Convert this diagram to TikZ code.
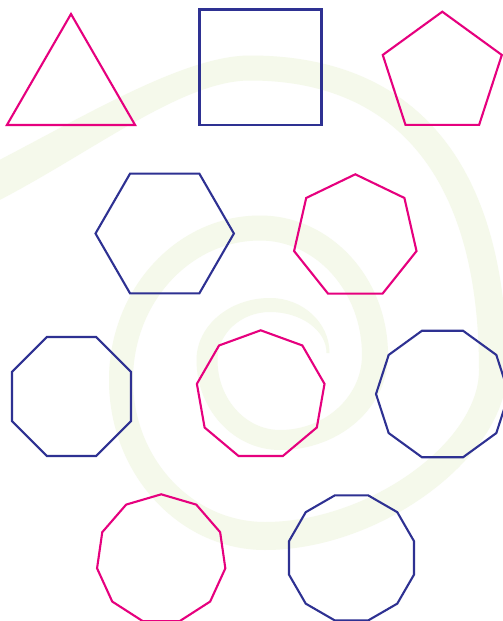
\documentclass[tikz,border=0pt]{standalone}
\usepackage{tikz}
\definecolor{polymag}{RGB}{230,0,126}
\definecolor{polyblue}{RGB}{46,49,146}
\definecolor{swirlgreen}{RGB}{245,249,235}
\tikzset{
  magline/.style={draw=polymag, line width=2.1pt},
  blueline/.style={draw=polyblue, line width=2.1pt},
  swirl/.style={fill=swirlgreen},
}
% regular polygon: style, n, cx, cy, R, start angle
\newcommand\regpolygon[6]{%
  \draw[#1] plot[samples=#2, domain=#6:{#6+360-360/#2}]
    ({#3+#5*cos(\x)},{#4-#5*sin(\x)}) -- cycle;}
% quarter ellipse pieces: from side point (#1,#2) to top/bottom point (#3,#4), and back
\newcommand\sidetb[5]{.. controls (#1,{#2+#5*(#4-#2)}) and ({#3+#5*(#1-#3)},#4) .. (#3,#4)}
\newcommand\tbside[5]{.. controls ({#1+#5*(#3-#1)},#2) and (#3,{#4+#5*(#2-#4)}) .. (#3,#4)}
\begin{document}
\begin{tikzpicture}[x=1pt,y=-1pt]
\useasboundingbox (0,0) rectangle (503,621);
\clip (0,0) rectangle (503,621);
\fill[white] (0,0) rectangle (503,621);
% background swirl (filled band)
\fill[swirl] (329.5,353)
  \sidetb{329.5}{353}{270}{298}{0.552}
  \tbside{270}{298}{196.5}{360}{0.552}
  \sidetb{196.5}{360}{280}{450}{0.552}
  \tbside{280}{450}{388}{355}{0.552}
  \sidetb{388}{355}{260}{215.5}{0.552}
  \tbside{260}{215.5}{109}{380}{0.552}
  \sidetb{109}{380}{265}{550}{0.552}
  \tbside{265}{550}{507}{370}{0.48}
  \sidetb{507}{370}{250}{55.5}{0.65}
  .. controls (180,55.5) and (72,124) .. (-28,174)
  -- (-12,206)
  .. controls (88,156) and (180,80.5) .. (250,80.5)
  \tbside{250}{80.5}{479}{370}{0.65}
  \sidetb{479}{370}{265}{522}{0.48}
  \tbside{265}{522}{133}{380}{0.552}
  \sidetb{133}{380}{260}{240.5}{0.552}
  \tbside{260}{240.5}{362}{355}{0.552}
  \sidetb{362}{355}{280}{430}{0.552}
  \tbside{280}{430}{217.5}{360}{0.552}
  \sidetb{217.5}{360}{270}{312}{0.552}
  \tbside{270}{312}{326.5}{353}{0.552}
  -- cycle;
% polygons
\draw[magline] (71,14) -- (135.1,125) -- (6.9,125) -- cycle;
\draw[blueline] (199.5,9.5) rectangle (321.5,125);
\regpolygon{magline}{5}{442.3}{74.3}{62.6}{90}
\regpolygon{blueline}{6}{164.7}{233.5}{69.2}{0}
\regpolygon{magline}{7}{355.3}{237.1}{62.8}{90}
\regpolygon{blueline}{8}{71.5}{396.5}{64.4}{22.5}
\regpolygon{magline}{9}{260.7}{395.1}{64.8}{90}
\regpolygon{blueline}{10}{442.5}{394}{66.5}{0}
\regpolygon{magline}{11}{161.2}{559.1}{64.8}{90}
\regpolygon{blueline}{12}{351.5}{557.9}{64.7}{15}
\end{tikzpicture}
\end{document}
